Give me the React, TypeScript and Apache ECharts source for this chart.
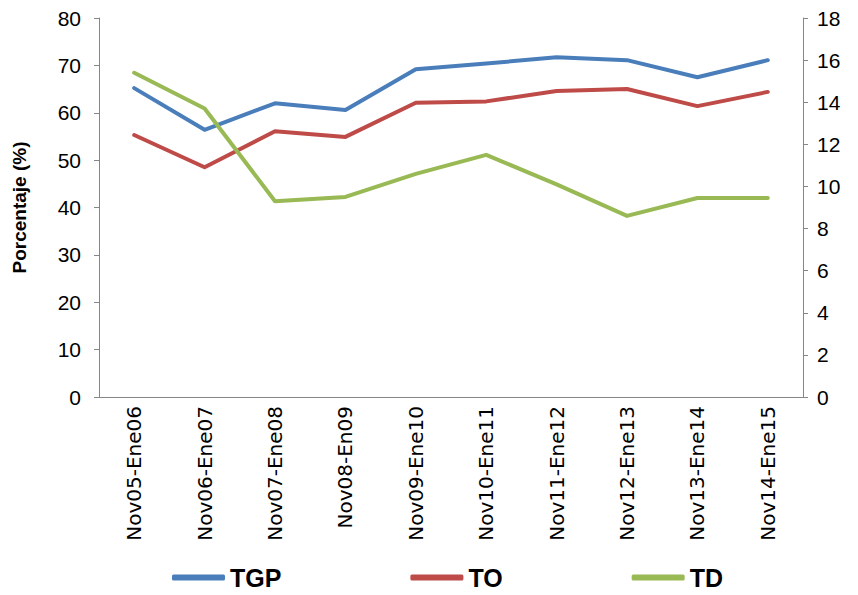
import React, { useEffect, useRef } from "react";
import * as echarts from "echarts";

const categories = [
  "Nov05-Ene06",
  "Nov06-Ene07",
  "Nov07-Ene08",
  "Nov08-En09",
  "Nov09-Ene10",
  "Nov10-Ene11",
  "Nov11-Ene12",
  "Nov12-Ene13",
  "Nov13-Ene14",
  "Nov14-Ene15",
];
const tgp = [65.2, 56.4, 62.0, 60.6, 69.2, 70.4, 71.7, 71.1, 67.5, 71.1];
const to = [55.3, 48.5, 56.1, 54.9, 62.1, 62.4, 64.6, 65.0, 61.4, 64.4];
const td = [15.4, 13.7, 9.3, 9.5, 10.6, 11.5, 10.1, 8.6, 9.45, 9.45];

const numFont = "'Liberation Sans', sans-serif";
const axisColor = "#868686";

export default function App() {
  const ref = useRef<HTMLDivElement>(null);
  useEffect(() => {
    if (!ref.current) return;
    const chart = echarts.init(ref.current, undefined, { renderer: "svg" });
    chart.setOption({
      animation: false,
      backgroundColor: "#ffffff",
      grid: { left: 99, right: 55, top: 18, bottom: 198 },
      legend: {
        bottom: 0,
        left: 167,
        itemGap: 129,
        icon: "roundRect",
        itemWidth: 53,
        itemHeight: 6,
        textStyle: { fontFamily: numFont, fontWeight: "bold", fontSize: 25, color: "#000" },
        data: ["TGP", "TO", "TD"],
      },
      xAxis: {
        type: "category",
        data: categories,
        boundaryGap: true,
        axisLine: { lineStyle: { color: axisColor, width: 1 } },
        axisTick: { show: false },
        axisLabel: {
          rotate: 90,
          interval: 0,
          fontFamily: "'DejaVu Sans', sans-serif",
          fontSize: 20,
          color: "#000",
          margin: 9,
        },
      },
      yAxis: [
        {
          type: "value",
          min: 0,
          max: 80,
          interval: 10,
          name: "Porcentaje (%)",
          nameLocation: "middle",
          nameGap: 70,
          nameTextStyle: { fontFamily: numFont, fontWeight: "bold", fontSize: 19, color: "#000" },
          axisLine: { show: true, lineStyle: { color: axisColor } },
          axisTick: { show: true, inside: false, length: 5, lineStyle: { color: axisColor } },
          splitLine: { show: false },
          axisLabel: { fontFamily: numFont, fontSize: 21, color: "#000", margin: 18 },
        },
        {
          type: "value",
          min: 0,
          max: 18,
          interval: 2,
          position: "right",
          axisLine: { show: true, lineStyle: { color: axisColor } },
          axisTick: { show: true, inside: false, length: 5, lineStyle: { color: axisColor } },
          splitLine: { show: false },
          axisLabel: { fontFamily: numFont, fontSize: 21, color: "#000", margin: 14 },
        },
      ],
      series: [
        {
          name: "TGP",
          type: "line",
          data: tgp,
          yAxisIndex: 0,
          symbol: "none",
          color: "#4A7EBB",
          lineStyle: { width: 4, color: "#4A7EBB", cap: "round", join: "round" },
        },
        {
          name: "TO",
          type: "line",
          data: to,
          yAxisIndex: 0,
          symbol: "none",
          color: "#BE4B48",
          lineStyle: { width: 4, color: "#BE4B48", cap: "round", join: "round" },
        },
        {
          name: "TD",
          type: "line",
          data: td,
          yAxisIndex: 1,
          symbol: "none",
          color: "#98B954",
          lineStyle: { width: 4, color: "#98B954", cap: "round", join: "round" },
        },
      ],
    });
    return () => chart.dispose();
  }, []);
  return <div ref={ref} style={{ width: 858, height: 595, position: "absolute", left: 0, top: 0 }} />;
}
